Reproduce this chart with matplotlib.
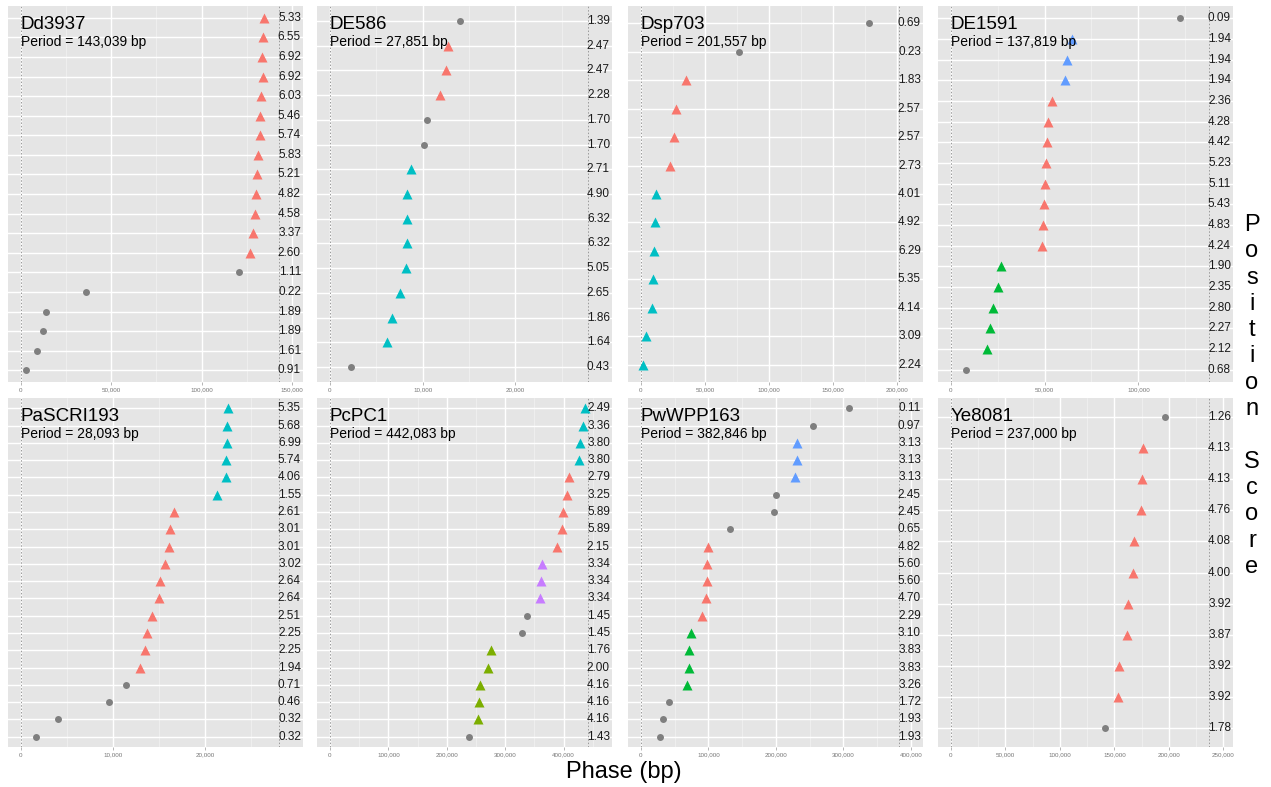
import numpy as np
import matplotlib.pyplot as plt
from matplotlib.ticker import FuncFormatter

plt.rcParams['font.family'] = ['Liberation Sans', 'DejaVu Sans']

# fase en kb, puntuacion y grupo (g = gris, resto = triangulos de color)
dd3937_phase_kb = [134.5, 133.9, 133.6, 134.0, 133.0, 132.4, 132.2, 131.5, 130.6, 130.4,
                   129.6, 128.3, 127.1, 120.6, 36.2, 14.0, 12.4, 9.0, 2.9]
dd3937_score = [5.33, 6.55, 6.92, 6.92, 6.03, 5.46, 5.74, 5.83, 5.21, 4.82,
                4.58, 3.37, 2.60, 1.11, 0.22, 1.89, 1.89, 1.61, 0.91]
dd3937_group = "rrrrrrrrrrrrrgggggg"

de586_phase_kb = [14.0, 12.7, 12.5, 11.9, 10.5, 10.1, 8.75, 8.3, 8.3, 8.3, 8.2, 7.6, 6.7, 6.2, 2.3]
de586_score = [1.39, 2.47, 2.47, 2.28, 1.70, 1.70, 2.71, 4.90, 6.32, 6.32, 5.05, 2.65, 1.86, 1.64, 0.43]
de586_group = "grrrggttttttttg"

dsp703_phase_kb = [178.0, 76.6, 35.0, 27.0, 25.8, 22.7, 11.7, 10.9, 10.2, 9.4, 8.6, 3.9, 1.6]
dsp703_score = [0.69, 0.23, 1.83, 2.57, 2.57, 2.73, 4.01, 4.92, 6.29, 5.35, 4.14, 3.09, 2.24]
dsp703_group = "ggrrrrttttttt"

de1591_phase_kb = [122.0, 64.4, 62.2, 60.6, 53.7, 51.6, 51.0, 50.5, 50.0, 49.5, 49.0, 48.4,
                   26.6, 25.0, 22.3, 20.7, 19.1, 8.0]
de1591_score = [0.09, 1.94, 1.94, 1.94, 2.36, 4.28, 4.42, 5.23, 5.11, 5.43, 4.83, 4.24,
                1.90, 2.35, 2.80, 2.27, 2.12, 0.68]
de1591_group = "gbbbrrrrrrrrGGGGGg"

pascri193_phase_kb = [22.5, 22.4, 22.4, 22.3, 22.3, 21.3, 16.6, 16.2, 16.1, 15.7, 15.1, 15.0,
                      14.3, 13.7, 13.5, 13.0, 11.4, 9.6, 4.0, 1.6]
pascri193_score = [5.35, 5.68, 6.99, 5.74, 4.06, 1.55, 2.61, 3.01, 3.01, 3.02, 2.64, 2.64,
                   2.51, 2.25, 2.25, 1.94, 0.71, 0.46, 0.32, 0.32]
pascri193_group = "ttttttrrrrrrrrrrgggg"

pcpc1_phase_kb = [437.0, 433.5, 428.0, 426.7, 409.6, 406.0, 399.0, 397.7, 389.0, 363.6,
                  362.0, 360.0, 338.0, 329.5, 275.0, 270.0, 256.0, 254.5, 253.0, 237.5]
pcpc1_score = [2.49, 3.36, 3.80, 3.80, 2.79, 3.25, 5.89, 5.89, 2.15, 3.34,
               3.34, 3.34, 1.45, 1.45, 1.76, 2.00, 4.16, 4.16, 4.16, 1.43]
pcpc1_group = "ttttrrrrrpppggooooog"

pwwpp163_phase_kb = [309.0, 254.4, 232.0, 231.0, 229.0, 200.0, 197.0, 132.0, 100.0, 98.5,
                     98.5, 97.0, 91.0, 73.5, 72.0, 70.6, 69.0, 41.0, 32.0, 29.0]
pwwpp163_score = [0.11, 0.97, 3.13, 3.13, 3.13, 2.45, 2.45, 0.65, 4.82, 5.60,
                  5.60, 4.70, 2.29, 3.10, 3.83, 3.83, 3.26, 1.72, 1.93, 1.93]
pwwpp163_group = "ggbbbgggrrrrrGGGGggg"

ye8081_phase_kb = [196.0, 176.0, 175.0, 174.5, 168.0, 167.0, 162.5, 161.6, 154.4, 153.5, 141.0]
ye8081_score = [1.26, 4.13, 4.13, 4.76, 4.08, 4.00, 3.92, 3.87, 3.92, 3.92, 1.78]
ye8081_group = "grrrrrrrrrg"

strains = ['Dd3937', 'DE586', 'Dsp703', 'DE1591', 'PaSCRI193', 'PcPC1', 'PwWPP163', 'Ye8081']
periods = [143039, 27851, 201557, 137819, 28093, 442083, 382846, 237000]
tick_steps = [50000, 10000, 50000, 50000, 10000, 100000, 100000, 50000]

panels = [
    (dd3937_phase_kb, dd3937_score, dd3937_group),
    (de586_phase_kb, de586_score, de586_group),
    (dsp703_phase_kb, dsp703_score, dsp703_group),
    (de1591_phase_kb, de1591_score, de1591_group),
    (pascri193_phase_kb, pascri193_score, pascri193_group),
    (pcpc1_phase_kb, pcpc1_score, pcpc1_group),
    (pwwpp163_phase_kb, pwwpp163_score, pwwpp163_group),
    (ye8081_phase_kb, ye8081_score, ye8081_group),
]

colores = {'g': '#7F7F7F', 'r': '#F8766D', 't': '#00BFC4', 'b': '#619CFF',
           'G': '#00BA38', 'o': '#7CAE00', 'p': '#C77CFF'}

W, H = 1271, 787
fig = plt.figure(figsize=(W / 100, H / 100), dpi=100)

lefts = [8, 317, 628, 938]
rows_px = [(6, 382), (398, 747)]
pt = 0.72  # pixeles -> puntos

for i, (name, period) in enumerate(zip(strains, periods)):
    phase_kb, score, grp = panels[i]
    r, c = divmod(i, 4)
    top, bot = rows_px[r]
    ax = fig.add_axes([lefts[c] / W, 1 - bot / H, 295 / W, (bot - top) / H])
    ax.set_facecolor('#E5E5E5')
    for s in ax.spines.values():
        s.set_visible(False)

    n = len(score)
    y = np.arange(1, n + 1)
    x = np.array(phase_kb) * 1000
    xmin, xmax = -0.05 * period, 1.092 * period
    ax.set_xlim(xmin, xmax)
    ax.set_ylim(n + 0.6, 0.4)

    # grilla estilo ggplot
    step = tick_steps[i]
    ticks = [t for t in np.arange(0, xmax, step) if t <= xmax - 0.03 * (xmax - xmin)]
    ax.set_xticks(ticks)
    ax.set_xticks(np.arange(step / 2, xmax, step), minor=True)
    ax.xaxis.set_major_formatter(FuncFormatter(lambda v, p: f'{int(v):,}'))
    ax.tick_params(axis='x', which='major', labelsize=4.5, labelcolor='#777777',
                   color='#999999', length=2.5, width=0.5, pad=1.5)
    ax.tick_params(axis='x', which='minor', length=0)
    ax.set_yticks(y)
    ax.tick_params(axis='y', length=0, labelleft=False)
    ax.grid(True, which='major', color='white', lw=1.0, zorder=0)
    ax.grid(True, which='minor', axis='x', color='#F2F2F2', lw=0.5, zorder=0)
    ax.set_axisbelow(True)

    ax.axvline(0, color='#999999', ls=(0, (1.5, 2)), lw=0.7, zorder=1)
    ax.axvline(period, color='#999999', ls=(0, (1.5, 2)), lw=0.7, zorder=1)

    for xi, yi, g in zip(x, y, grp):
        if g == 'g':
            ax.plot(xi, yi, 'o', color=colores[g], ms=5, mec='none', zorder=3)
        else:
            ax.plot(xi, yi, '^', color=colores[g], ms=6.5, mec='none', zorder=3)

    for yi, s in zip(y, score):
        ax.text(0.993, yi, f'{s:.2f}', transform=ax.get_yaxis_transform(),
                ha='right', va='center', fontsize=8.5, color='#1a1a1a', zorder=4)

    ax.annotate(name, xy=(0, 1), xycoords=('data', 'axes fraction'),
                xytext=(0, -10 * pt), textcoords='offset points',
                ha='left', va='top', fontsize=13.5, color='black')
    ax.annotate(f'Period = {period:,} bp', xy=(0, 1), xycoords=('data', 'axes fraction'),
                xytext=(0, -29 * pt), textcoords='offset points',
                ha='left', va='top', fontsize=10, color='black')

fig.text(624 / W, 1 - 772 / H, 'Phase (bp)', ha='center', va='center', fontsize=17)

etiqueta = 'Position Score'
for k, ch in enumerate(etiqueta):
    fig.text(1252 / W, 1 - (225 + k * 26.3) / H, ch, ha='center', va='center', fontsize=17)

fig.savefig('out.png', dpi=100)
